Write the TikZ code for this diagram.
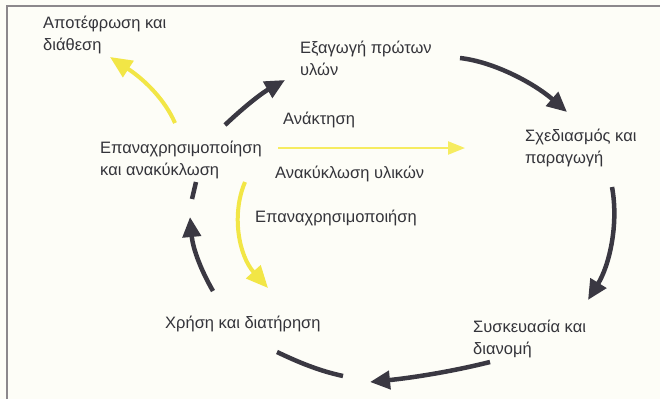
\documentclass[tikz,border=0pt]{standalone}
\usepackage{fontspec}
\setmainfont{Liberation Sans}
\usetikzlibrary{arrows.meta}
\definecolor{bgc}{RGB}{253,253,247}
\definecolor{darkarr}{RGB}{58,56,66}
\definecolor{yel}{RGB}{242,230,70}
\definecolor{yellight}{RGB}{246,236,96}
\definecolor{txt}{RGB}{52,52,58}
\definecolor{frame}{RGB}{140,136,140}
\tikzset{
  lbl/.style={inner sep=0pt, anchor=base west, align=left, text=txt,
    font=\fontsize{16.5}{22}\selectfont},
  darkflow/.style={draw=darkarr, line width=4.5pt,
    -{Triangle[length=20pt,width=18pt]}},
  darkseg/.style={draw=darkarr, line width=4.5pt},
  yelflow/.style={draw=yel, line width=4pt,
    -{Triangle[length=22pt,width=19pt]}},
  yelthin/.style={draw=yellight, line width=2.2pt,
    -{Triangle[length=17pt,width=13pt]}}
}
\begin{document}
\begin{tikzpicture}[x=1pt,y=-1pt]
\fill[bgc] (0,0) rectangle (660,399);
\useasboundingbox (0,0) rectangle (660,399);
\draw[frame, line width=1.4pt] (7,399) -- (7,6) -- (660,6);

% labels (multi-line nodes are anchored at the baseline of their last line)
\node[lbl] (incin) at (43,50) {Αποτέφρωση και\\διάθεση};
\node[lbl] (extr) at (300,75) {Εξαγωγή πρώτων\\υλών};
\node[lbl] (recov) at (283,124) {Ανάκτηση};
\node[lbl] (reuse) at (100,175) {Επαναχρησιμοποίηση\\και ανακύκλωση};
\node[lbl] (recyc) at (275,178) {Ανακύκλωση υλικών};
\node[lbl] (design) at (525,163) {Σχεδιασμός και\\παραγωγή};
\node[lbl] (reuse2) at (255,222) {Επαναχρησιμοποιήση};
\node[lbl] (use) at (165,328) {Χρήση και διατήρηση};
\node[lbl] (pack) at (473,354) {Συσκευασία και\\διανομή};

% arrow end points
\coordinate (a1s) at (225,125); \coordinate (a1e) at (285,80);
\coordinate (a2s) at (460,58);  \coordinate (a2e) at (567,112);
\coordinate (a3s) at (612,187); \coordinate (a3e) at (588,300);
\coordinate (a4s) at (490,362); \coordinate (a4e) at (370,382);
\coordinate (s5s) at (277,352); \coordinate (s5e) at (343,376);
\coordinate (a6s) at (213,291); \coordinate (a6e) at (190,217);
\coordinate (s7s) at (196,182); \coordinate (s7e) at (192,199);
\coordinate (y1s) at (175,123); \coordinate (y1e) at (110,57);
\coordinate (y2s) at (245,182); \coordinate (y2e) at (268,288);
\coordinate (y3s) at (278,148); \coordinate (y3e) at (465,148);

% dark cycle
\draw[darkflow] (a1s) .. controls (245,106) and (262,93) .. (a1e);
\draw[darkflow] (a2s) .. controls (495,62) and (535,84) .. (a2e);
\draw[darkflow] (a3s) .. controls (619,225) and (609,266) .. (a3e);
\draw[darkflow] (a4s) .. controls (450,372) and (410,378) .. (a4e);
\draw[darkseg] (s5s) .. controls (300,363) and (320,371) .. (s5e);
\draw[darkflow] (a6s) .. controls (202,272) and (193,250) .. (a6e);
\draw[darkseg] (s7s) -- (s7e);

% yellow flows
\draw[yelflow] (y1s) .. controls (165,100) and (145,80) .. (y1e);
\draw[yelflow] (y2s) .. controls (231,215) and (239,256) .. (y2e);
\draw[yelthin] (y3s) -- (y3e);
\end{tikzpicture}
\end{document}
